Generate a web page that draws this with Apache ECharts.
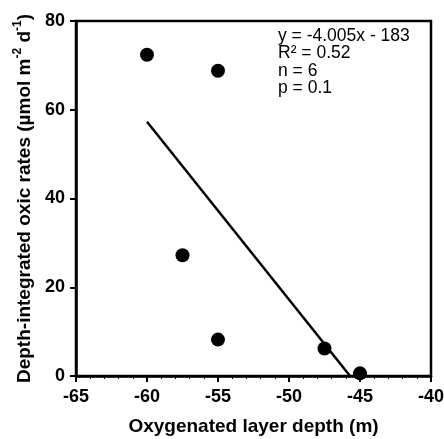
<!DOCTYPE html>
<html>
<head>
<meta charset="utf-8">
<script src="https://cdn.jsdelivr.net/npm/echarts@6/dist/echarts.min.js"></script>
<style>
  html, body { margin: 0; padding: 0; background: #fff; }
  #chart { width: 444px; height: 439px; }
</style>
</head>
<body>
<div id="chart"></div>
<script>
// depth (m) vs oxic rate
const depths = [-60, -55, -57.5, -55, -47.5, -45];
const rates = [72.4, 68.8, 27.2, 8.2, 6.2, 0.6];
// regression line endpoints
const fitLine = [[-60, 57.3], [-45.7, 0]];
const statsText = ['y = -4.005x - 183', 'R\u00b2 = 0.52', 'n = 6', 'p = 0.1'];

const FONT = '"Liberation Sans", Arial, sans-serif';

const chart = echarts.init(document.getElementById('chart'));

chart.setOption({
    animation: false,
    backgroundColor: '#fff',
    grid: {
        left: 76, right: 13, top: 21, bottom: 63,
        outerBoundsMode: 'none',
        show: true, borderColor: '#000', borderWidth: 2.5,
    },
    xAxis: {
        type: 'value', min: -65, max: -40, interval: 5,
        name: 'Oxygenated layer depth (m)',
        nameLocation: 'middle', nameGap: 41,
        nameTextStyle: { fontFamily: FONT, fontWeight: 'bold', fontSize: 19, color: '#000' },
        axisLine: { show: true, onZero: false, lineStyle: { color: '#000', width: 2.5 } },
        axisTick: { show: true, inside: false, length: 6, lineStyle: { color: '#000', width: 2 } },
        minorTick: { show: true, splitNumber: 5, length: 3, lineStyle: { color: '#000', width: 1 } },
        splitLine: { show: false },
        axisLabel: { fontFamily: FONT, fontWeight: 'bold', fontSize: 18, color: '#000', margin: 12 },
    },
    yAxis: {
        type: 'value', min: 0, max: 80, interval: 20,
        name: '{n|Depth-integrated oxic rates (µmol m}{s|-2}{n| d}{s|-1}{n|)}',
        nameLocation: 'middle', nameGap: 36,
        nameTextStyle: {
            fontFamily: FONT, fontWeight: 'bold', fontSize: 19, color: '#000',
            rich: {
                n: { fontFamily: FONT, fontWeight: 'bold', fontSize: 19, color: '#000', lineHeight: 25 },
                s: { fontFamily: FONT, fontWeight: 'bold', fontSize: 12, color: '#000', lineHeight: 12, verticalAlign: 'top' },
            },
        },
        axisLine: { show: true, lineStyle: { color: '#000', width: 2.5 } },
        axisTick: { show: true, inside: false, length: 6, lineStyle: { color: '#000', width: 2 } },
        splitLine: { show: false },
        axisLabel: { fontFamily: FONT, fontWeight: 'bold', fontSize: 18, color: '#000', margin: 11 },
    },
    graphic: statsText.map((t, i) => ({
        type: 'text',
        left: 278,
        top: 27 + i * 17.5,
        style: { text: t, fontFamily: FONT, fontSize: 17.5, fill: '#000' },
    })),
    series: [
        {
            type: 'line',
            data: fitLine,
            symbol: 'none',
            lineStyle: { color: '#000', width: 2.5 },
            z: 2,
        },
        {
            type: 'scatter',
            data: depths.map((d, i) => [d, rates[i]]),
            symbol: 'circle',
            symbolSize: 14,
            itemStyle: { color: '#000', opacity: 1 },
            clip: false,
            z: 3,
        },
    ],
});
</script>
</body>
</html>
